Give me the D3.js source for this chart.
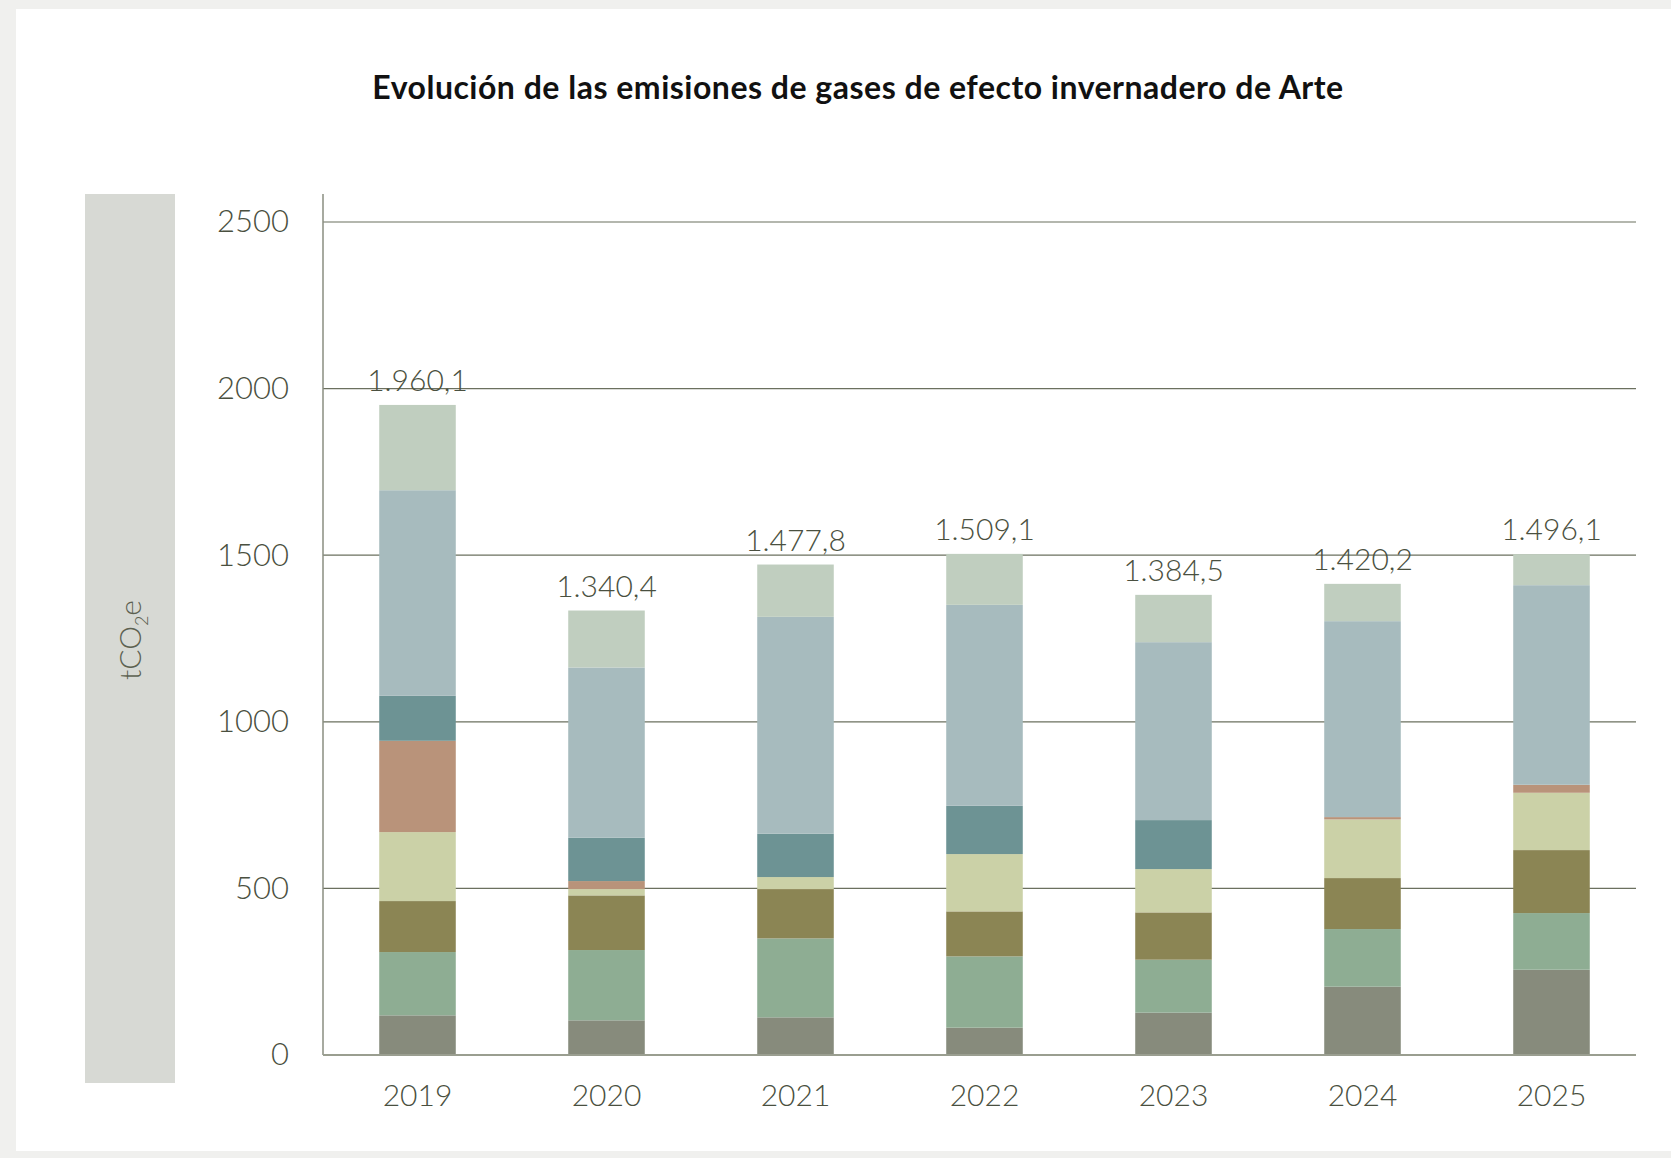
<!DOCTYPE html>
<html>
<head>
<meta charset="utf-8">
<script src="https://cdn.jsdelivr.net/npm/d3@7"></script>
<style>
  body { margin: 0; background: #f0f0ee; }
  svg { display: block; font-family: Lato, "Open Sans", sans-serif; }
</style>
</head>
<body>
<div id="chart"></div>
<script>
// Datos

const years = ["2019", "2020", "2021", "2022", "2023", "2024", "2025"]
const totals = ["1.960,1", "1.340,4", "1.477,8", "1.509,1", "1.384,5", "1.420,2", "1.496,1"]
const yTicks = [0, 500, 1000, 1500, 2000, 2500]

// segmentos de abajo a arriba
const seriesKeys = ["s1", "s2", "s3", "s4", "s5", "s6", "s7", "s8"]
const s1 = [119, 104, 113, 82, 127, 205, 256]
const s2 = [190, 211, 237, 214, 159, 173, 170]
const s3 = [153, 164, 148, 135, 142, 153, 189]
const s4 = [207, 19, 36, 172, 130, 176, 172]
const s5 = [274, 24, 0, 0, 0, 7, 24]
const s6 = [135, 130, 130, 145, 147, 0, 0]
const s7 = [617, 511, 651, 603, 534, 588, 599]
const s8 = [256, 171, 157, 153, 142, 112, 93]
const colors = ["#878b7c", "#8ead93", "#8b8554", "#cbd1a7", "#b9937a", "#6d9394", "#a7bbbe", "#c0cebf"]

// Constantes

const width = 1671
const height = 1158
const margin = { top: 222, bottom: 103, left: 323, right: 35 }

const svg = d3.select("#chart").append("svg").attr("width", width).attr("height", height)

// fondo
svg.append("rect").attr("x", 16).attr("y", 9).attr("width", width - 16).attr("height", 1142).attr("fill", "#ffffff")
svg.append("rect").attr("x", 85).attr("y", 194).attr("width", 90).attr("height", 889).attr("fill", "#d7d9d4")

svg.append("text")
    .attr("x", 858)
    .attr("y", 99)
    .attr("text-anchor", "middle")
    .style("font-size", "32px")
    .style("font-weight", "700")
    .style("letter-spacing", "0.5px")
    .attr("fill", "#111")
    .text("Evolución de las emisiones de gases de efecto invernadero de Arte")

// etiqueta eje y
const yLabel = svg.append("text")
    .attr("transform", "translate(141,640) rotate(-90)")
    .attr("text-anchor", "middle")
    .style("font-size", "30px")
    .style("font-weight", "300")
    .attr("fill", "#5c6151")
yLabel.append("tspan").text("tCO")
yLabel.append("tspan").attr("dy", 7).style("font-size", "18px").text("2")
yLabel.append("tspan").attr("dy", -7).text("e")

// Escalas

const x = d3.scaleBand().domain(years).range([margin.left, 1646]).paddingInner(0.595).paddingOuter(0.2975)
const y = d3.scaleLinear().domain([0, 2500]).range([1055, margin.top])

// rejilla
const grid = svg.append("g")
grid.selectAll("line").data(yTicks.filter(d => d > 0))
    .join("line")
        .attr("x1", margin.left).attr("x2", 1636)
        .attr("y1", d => y(d)).attr("y2", d => y(d))
        .attr("stroke", "#6b705f").attr("stroke-width", 1.2)

// datos apilados
const table = years.map((yr, i) => {
    const row = { year: yr }
    const all = [s1, s2, s3, s4, s5, s6, s7, s8]
    seriesKeys.forEach((k, j) => row[k] = all[j][i])
    return row
})
const stacked = d3.stack().keys(seriesKeys)(table)

const bars = svg.append("g")
bars.selectAll("g").data(stacked)
    .join("g")
        .attr("fill", (d, i) => colors[i])
    .selectAll("rect").data(d => d)
    .join("rect")
        .attr("x", d => x(d.data.year))
        .attr("y", d => y(d[1]))
        .attr("width", x.bandwidth())
        .attr("height", d => y(d[0]) - y(d[1]))

// totales
const topLayer = stacked[stacked.length - 1]
svg.append("g").selectAll("text").data(topLayer)
    .join("text")
        .attr("x", d => x(d.data.year) + x.bandwidth() / 2)
        .attr("y", d => y(d[1]) - 14)
        .attr("text-anchor", "middle")
        .style("font-size", "30px")
        .style("font-weight", "300")
        .attr("fill", "#4a5040")
        .text((d, i) => totals[i])

// ejes
svg.append("line")
    .attr("x1", margin.left).attr("x2", margin.left)
    .attr("y1", 194).attr("y2", 1055)
    .attr("stroke", "#8a8e80").attr("stroke-width", 1.5)
svg.append("line")
    .attr("x1", margin.left).attr("x2", 1636)
    .attr("y1", y(0)).attr("y2", y(0))
    .attr("stroke", "#9a9e90").attr("stroke-width", 2)

const yAxis = d3.axisLeft(y).tickValues(yTicks).tickFormat(d3.format("d")).tickSize(0).tickPadding(34)
const yAxisGroup = svg.append("g").attr("transform", `translate(${margin.left},0)`).call(yAxis)
yAxisGroup.select(".domain").remove()
yAxisGroup.selectAll("text")
    .style("font-family", "Lato, sans-serif")
    .style("font-size", "31px")
    .style("font-weight", "300")
    .attr("fill", "#4a5040")

const xAxis = d3.axisBottom(x).tickSize(0).tickPadding(30)
const xAxisGroup = svg.append("g").attr("transform", `translate(0,${y(0)})`).call(xAxis)
xAxisGroup.select(".domain").remove()
xAxisGroup.selectAll("text")
    .style("font-family", "Lato, sans-serif")
    .style("font-size", "30px")
    .style("font-weight", "300")
    .attr("fill", "#4a5040")
</script>
</body>
</html>
